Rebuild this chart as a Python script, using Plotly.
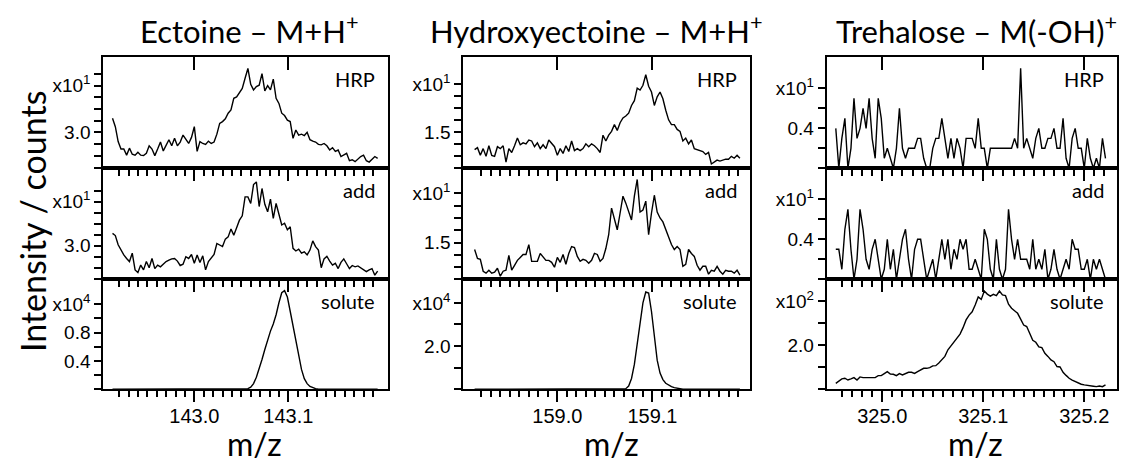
import plotly.graph_objects as go

# page geometry: the browser body keeps an 8 px margin, so the figure is drawn 8 px in
OFF = 8
PAGE_W, PAGE_H = 1128, 459
FW, FH = PAGE_W - OFF, PAGE_H - OFF

# ---------------- data ----------------
ect_mz = [142.913, 142.916, 142.919, 142.922, 142.925, 142.928, 142.931, 142.934, 142.937, 142.940,
          142.943, 142.946, 142.949, 142.952, 142.955, 142.958, 142.961, 142.964, 142.967, 142.970,
          142.973, 142.976, 142.979, 142.982, 142.985, 142.988, 142.991, 142.994, 142.997, 143.000,
          143.003, 143.006, 143.009, 143.012, 143.015, 143.018, 143.021, 143.024, 143.027, 143.030,
          143.033, 143.036, 143.039, 143.042, 143.045, 143.048, 143.051, 143.054, 143.057, 143.060,
          143.063, 143.066, 143.069, 143.072, 143.075, 143.078, 143.081, 143.084, 143.087, 143.090,
          143.093, 143.096, 143.099, 143.102, 143.105, 143.108, 143.111, 143.114, 143.117, 143.120,
          143.123, 143.126, 143.129, 143.132, 143.135, 143.138, 143.141, 143.144, 143.147, 143.150,
          143.153, 143.156, 143.159, 143.162, 143.165, 143.168, 143.171, 143.174, 143.177, 143.180,
          143.183, 143.186, 143.189, 143.192, 143.195]
ect_hrp = [3.30, 3.12, 2.80, 2.64, 2.64, 2.51, 2.66, 2.53, 2.51, 2.57,
           2.51, 2.50, 2.55, 2.71, 2.64, 2.50, 2.64, 2.79, 2.60, 2.71,
           2.84, 2.71, 2.87, 2.71, 2.79, 2.94, 2.84, 2.76, 2.89, 3.12,
           2.59, 2.80, 2.76, 2.74, 2.81, 2.76, 2.79, 2.96, 3.19, 3.23,
           3.29, 3.41, 3.48, 3.73, 3.76, 3.84, 3.94, 4.16, 4.37, 4.03,
           3.91, 3.98, 4.01, 4.26, 3.89, 4.00, 3.91, 4.14, 3.73, 3.62,
           3.41, 3.36, 3.26, 3.23, 2.87, 3.05, 2.94, 2.96, 2.93, 3.00,
           2.84, 2.81, 2.79, 2.74, 2.73, 2.76, 2.71, 2.62, 2.67, 2.59,
           2.62, 2.48, 2.51, 2.55, 2.39, 2.41, 2.37, 2.43, 2.48, 2.51,
           2.39, 2.36, 2.43, 2.48, 2.44]
ect_add = [3.28, 3.23, 3.02, 2.89, 2.79, 2.71, 2.64, 2.83, 2.45, 2.39,
           2.56, 2.45, 2.64, 2.50, 2.71, 2.48, 2.56, 2.52, 2.58, 2.64,
           2.67, 2.70, 2.71, 2.65, 2.55, 2.58, 2.75, 2.71, 2.80, 2.60,
           2.79, 2.62, 2.77, 2.45, 2.64, 2.73, 2.80, 3.05, 3.02, 2.98,
           3.15, 3.20, 3.38, 3.24, 3.41, 3.58, 3.68, 4.11, 4.11, 3.96,
           4.39, 4.45, 3.89, 4.30, 3.94, 3.77, 4.06, 3.62, 3.96, 3.73,
           3.47, 3.51, 3.36, 3.43, 2.94, 2.88, 2.92, 2.83, 2.86, 2.79,
           2.90, 3.11, 2.98, 2.90, 2.50, 2.70, 2.76, 2.65, 2.56, 2.60,
           2.48, 2.62, 2.70, 2.59, 2.48, 2.55, 2.52, 2.54, 2.50, 2.44,
           2.41, 2.45, 2.48, 2.33, 2.42]
ect_solute = [0, 0, 0, 0, 0, 0, 0, 0, 0, 0,
              0, 0, 0, 0, 0, 0, 0, 0, 0, 0,
              0, 0, 0, 0, 0, 0, 0, 0, 0, 0,
              0, 0, 0, 0, 0, 0, 0, 0, 0, 0,
              0, 0, 0, 0, 0, 0, 0, 0.005, 0.01, 0.03,
              0.08, 0.17, 0.28, 0.42, 0.56, 0.70, 0.82, 0.92, 1.05, 1.22,
              1.36, 1.39, 1.30, 1.10, 0.88, 0.68, 0.46, 0.28, 0.15, 0.08,
              0.04, 0.02, 0.01, 0, 0, 0, 0, 0, 0, 0,
              0, 0, 0, 0, 0, 0, 0, 0, 0, 0,
              0, 0, 0, 0, 0]

hyd_mz = [158.913, 158.916, 158.919, 158.922, 158.925, 158.928, 158.931, 158.934, 158.937, 158.940,
          158.943, 158.946, 158.949, 158.952, 158.955, 158.958, 158.961, 158.964, 158.967, 158.970,
          158.973, 158.976, 158.979, 158.982, 158.985, 158.988, 158.991, 158.994, 158.997, 159.000,
          159.003, 159.006, 159.009, 159.012, 159.015, 159.018, 159.021, 159.024, 159.027, 159.030,
          159.033, 159.036, 159.039, 159.042, 159.045, 159.048, 159.051, 159.054, 159.057, 159.060,
          159.063, 159.066, 159.069, 159.072, 159.075, 159.078, 159.081, 159.084, 159.087, 159.090,
          159.093, 159.096, 159.099, 159.102, 159.105, 159.108, 159.111, 159.114, 159.117, 159.120,
          159.123, 159.126, 159.129, 159.132, 159.135, 159.138, 159.141, 159.144, 159.147, 159.150,
          159.153, 159.156, 159.159, 159.162, 159.165, 159.168, 159.171, 159.174, 159.177, 159.180,
          159.183, 159.186, 159.189, 159.192]
hyd_hrp = [1.32, 1.34, 1.26, 1.33, 1.25, 1.36, 1.26, 1.25, 1.35, 1.33,
           1.36, 1.19, 1.33, 1.29, 1.36, 1.44, 1.37, 1.39, 1.38, 1.42,
           1.41, 1.35, 1.39, 1.33, 1.37, 1.33, 1.42, 1.38, 1.35, 1.26,
           1.33, 1.28, 1.36, 1.30, 1.41, 1.31, 1.33, 1.31, 1.33, 1.38,
           1.35, 1.38, 1.36, 1.33, 1.29, 1.47, 1.41, 1.47, 1.51, 1.58,
           1.52, 1.60, 1.65, 1.67, 1.70, 1.78, 1.83, 1.96, 1.94, 1.99,
           2.10, 1.98, 1.92, 1.78, 1.87, 1.92, 1.85, 1.73, 1.63, 1.58,
           1.58, 1.53, 1.51, 1.41, 1.44, 1.38, 1.42, 1.33, 1.32, 1.31,
           1.30, 1.27, 1.29, 1.17, 1.19, 1.21, 1.20, 1.21, 1.22, 1.22,
           1.25, 1.23, 1.26, 1.23]
hyd_add = [1.43, 1.34, 1.33, 1.21, 1.19, 1.22, 1.19, 1.20, 1.24, 1.16,
           1.21, 1.22, 1.37, 1.22, 1.27, 1.32, 1.35, 1.38, 1.38, 1.48,
           1.31, 1.31, 1.31, 1.39, 1.35, 1.32, 1.32, 1.30, 1.25, 1.35,
           1.30, 1.38, 1.28, 1.39, 1.46, 1.45, 1.36, 1.31, 1.33, 1.32,
           1.29, 1.32, 1.39, 1.38, 1.31, 1.34, 1.44, 1.58, 1.85, 1.73,
           1.63, 1.80, 1.97, 1.90, 1.82, 1.73, 1.97, 2.14, 1.81, 1.83,
           1.92, 1.58, 1.80, 1.98, 1.81, 1.75, 1.71, 1.63, 1.54, 1.48,
           1.43, 1.46, 1.43, 1.26, 1.28, 1.43, 1.39, 1.36, 1.27, 1.22,
           1.26, 1.26, 1.18, 1.22, 1.21, 1.26, 1.21, 1.18, 1.22, 1.21,
           1.21, 1.19, 1.22, 1.17]
hyd_solute = [0, 0, 0, 0, 0, 0, 0, 0, 0, 0,
              0, 0, 0, 0, 0, 0, 0, 0, 0, 0,
              0, 0, 0, 0, 0, 0, 0, 0, 0, 0,
              0, 0, 0, 0, 0, 0, 0, 0, 0, 0,
              0, 0, 0, 0, 0, 0, 0, 0, 0, 0,
              0, 0, 0, 0.03, 0.15, 0.50, 1.15, 2.05, 3.10, 4.00,
              4.50, 4.45, 3.60, 2.40, 1.35, 0.75, 0.45, 0.28, 0.19, 0.12,
              0.08, 0.05, 0.02, 0, 0, 0, 0, 0, 0, 0,
              0, 0, 0, 0, 0, 0, 0, 0, 0, 0,
              0, 0, 0, 0]

tre_mz = [324.954, 324.957, 324.960, 324.963, 324.966, 324.969, 324.972, 324.975, 324.978, 324.981,
          324.984, 324.987, 324.990, 324.993, 324.996, 324.999, 325.002, 325.005, 325.008, 325.011,
          325.014, 325.017, 325.020, 325.023, 325.026, 325.029, 325.032, 325.035, 325.038, 325.041,
          325.044, 325.047, 325.050, 325.053, 325.056, 325.059, 325.062, 325.065, 325.068, 325.071,
          325.074, 325.077, 325.080, 325.083, 325.086, 325.089, 325.092, 325.095, 325.098, 325.101,
          325.104, 325.107, 325.110, 325.113, 325.116, 325.119, 325.122, 325.125, 325.128, 325.131,
          325.134, 325.137, 325.140, 325.143, 325.146, 325.149, 325.152, 325.155, 325.158, 325.161,
          325.164, 325.167, 325.170, 325.173, 325.176, 325.179, 325.182, 325.185, 325.188, 325.191,
          325.194, 325.197, 325.200, 325.203, 325.206, 325.209, 325.212, 325.215, 325.218, 325.221]
tre_hrp = [0.4, 0.0, 0.3, 0.5, 0.0, 0.2, 0.7, 0.3, 0.4, 0.6,
           0.4, 0.7, 0.3, 0.1, 0.7, 0.5, 0.1, 0.2, 0.1, 0.0,
           0.2, 0.6, 0.2, 0.1, 0.2, 0.2, 0.2, 0.3, 0.3, 0.1,
           0.0, 0.0, 0.2, 0.3, 0.3, 0.5, 0.3, 0.1, 0.3, 0.1,
           0.3, 0.2, 0.0, 0.3, 0.3, 0.3, 0.2, 0.5, 0.2, 0.2,
           0.0, 0.2, 0.2, 0.2, 0.2, 0.2, 0.2, 0.2, 0.2, 0.3,
           0.2, 1.0, 0.2, 0.3, 0.2, 0.1, 0.3, 0.4, 0.2, 0.2,
           0.3, 0.3, 0.4, 0.2, 0.2, 0.5, 0.1, 0.0, 0.3, 0.4,
           0.2, 0.2, 0.0, 0.3, 0.1, 0.0, 0.1, 0.0, 0.3, 0.1]
tre_add = [0.3, 0.3, 0.1, 0.5, 0.7, 0.3, 0.0, 0.2, 0.7, 0.5,
           0.2, 0.1, 0.3, 0.4, 0.2, 0.0, 0.1, 0.4, 0.1, 0.3,
           0.0, 0.2, 0.4, 0.5, 0.2, 0.0, 0.3, 0.4, 0.4, 0.2,
           0.0, 0.1, 0.2, 0.0, 0.2, 0.4, 0.2, 0.4, 0.1, 0.3,
           0.2, 0.4, 0.3, 0.4, 0.1, 0.1, 0.2, 0.1, 0.0, 0.5,
           0.4, 0.1, 0.0, 0.4, 0.1, 0.0, 0.1, 0.7, 0.4, 0.2,
           0.4, 0.2, 0.2, 0.2, 0.1, 0.4, 0.1, 0.2, 0.1, 0.3,
           0.0, 0.1, 0.3, 0.1, 0.0, 0.1, 0.2, 0.1, 0.4, 0.3,
           0.3, 0.1, 0.1, 0.2, 0.0, 0.2, 0.1, 0.2, 0.1, 0.0]
tre_solute = [0.27, 0.38, 0.47, 0.50, 0.42, 0.47, 0.53, 0.42, 0.56, 0.53,
              0.53, 0.53, 0.53, 0.53, 0.62, 0.62, 0.71, 0.80, 0.69, 0.68,
              0.62, 0.71, 0.65, 0.72, 0.77, 0.77, 0.72, 0.80, 0.86, 0.95,
              0.95, 0.98, 1.06, 1.07, 1.19, 1.33, 1.49, 1.79, 1.98, 2.16,
              2.31, 2.50, 2.79, 3.14, 3.36, 3.51, 3.82, 4.18, 4.07, 4.45,
              4.31, 4.22, 4.30, 4.24, 4.45, 4.27, 4.24, 3.85, 3.67, 3.57,
              3.44, 3.18, 2.91, 2.84, 2.55, 2.22, 2.13, 1.92, 1.89, 1.63,
              1.49, 1.33, 1.25, 1.03, 1.01, 0.77, 0.63, 0.50, 0.42, 0.35,
              0.27, 0.23, 0.20, 0.17, 0.17, 0.14, 0.12, 0.15, 0.12, 0.20]

# ---------------- tick values / labels ----------------
ect_major = [143.0, 143.1]
ect_major_text = ["143.0", "143.1"]
ect_minor = [142.92, 142.93, 142.94, 142.95, 142.96, 142.97, 142.98, 142.99, 143.01,
             143.02, 143.03, 143.04, 143.05, 143.06, 143.07, 143.08, 143.09, 143.11,
             143.12, 143.13, 143.14, 143.15, 143.16, 143.17, 143.18, 143.19]
hyd_major = [159.0, 159.1]
hyd_major_text = ["159.0", "159.1"]
hyd_minor = [158.92, 158.93, 158.94, 158.95, 158.96, 158.97, 158.98, 158.99, 159.01,
             159.02, 159.03, 159.04, 159.05, 159.06, 159.07, 159.08, 159.09, 159.11,
             159.12, 159.13, 159.14, 159.15, 159.16, 159.17, 159.18, 159.19]
tre_major = [325.0, 325.1, 325.2]
tre_major_text = ["325.0", "325.1", "325.2"]
tre_minor = [324.96, 324.97, 324.98, 324.99, 325.01, 325.02, 325.03, 325.04, 325.05,
             325.06, 325.07, 325.08, 325.09, 325.11, 325.12, 325.13, 325.14, 325.15,
             325.16, 325.17, 325.18, 325.19, 325.21, 325.22]

X1 = "x10<sup>1</sup>"
ect_y_major = [3.0, 4.0]
ect_y_text = ["3.0", X1]
ect_hrp_minor = [2.2275, 2.5, 2.75, 3.25, 3.5, 3.75, 4.25]
ect_add_minor = [2.236, 2.5, 2.75, 3.25, 3.5, 3.75, 4.25]
ect_sol_major = [0.4, 0.8, 1.2]
ect_sol_text = ["0.4", "0.8", "x10<sup>4</sup>"]
ect_sol_minor = [0.0, 0.2, 0.6, 1.0]
hyd_y_major = [1.5, 2.0]
hyd_y_text = ["1.5", X1]
hyd_hrp_minor = [1.125, 1.25, 1.375, 1.625, 1.75, 1.875]
hyd_add_minor = [1.128, 1.25, 1.375, 1.625, 1.75, 1.875]
hyd_sol_major = [2, 4]
hyd_sol_text = ["2.0", "x10<sup>4</sup>"]
hyd_sol_minor = [0, 1, 3]
tre_y_major = [0.4, 0.8]
tre_y_text = ["0.4", X1]
tre_y_minor = [0.0, 0.2, 0.6]
tre_sol_major = [2, 4]
tre_sol_text = ["2.0", "x10<sup>2</sup>"]
tre_sol_minor = [0, 1, 3]

titles = ["Ectoine – M+H<sup>+</sup>", "Hydroxyectoine – M+H<sup>+</sup>", "Trehalose – M(-OH)<sup>+</sup>"]
row_labels = ["HRP", "add", "solute"]

# ---------------- layout geometry (page pixels) ----------------
columns = [
    dict(mz=ect_mz, series=[ect_hrp, ect_add, ect_solute], xr=[142.9032, 143.2057], dom=(103.3, 387.7),
         major=ect_major, major_text=ect_major_text, minor=ect_minor,
         yr=[[2.2275, 4.622], [2.236, 4.759], [0, 1.55]],
         ymaj=[ect_y_major, ect_y_major, ect_sol_major], ytxt=[ect_y_text, ect_y_text, ect_sol_text],
         ymin=[ect_hrp_minor, ect_add_minor, ect_sol_minor],
         title_x=249.5, mz_x=254),
    dict(mz=hyd_mz, series=[hyd_hrp, hyd_add, hyd_solute], xr=[158.9011, 159.2026], dom=(463.3, 750.0),
         major=hyd_major, major_text=hyd_major_text, minor=hyd_minor,
         yr=[[1.125, 2.288], [1.128, 2.253], [0, 5.09]],
         ymaj=[hyd_y_major, hyd_y_major, hyd_sol_major], ytxt=[hyd_y_text, hyd_y_text, hyd_sol_text],
         ymin=[hyd_hrp_minor, hyd_add_minor, hyd_sol_minor],
         title_x=596, mz_x=611),
    dict(mz=tre_mz, series=[tre_hrp, tre_add, tre_solute], xr=[324.945, 325.2321], dom=(826.7, 1116.7),
         major=tre_major, major_text=tre_major_text, minor=tre_minor,
         yr=[[0, 1.117], [0, 1.11], [0, 4.98]],
         ymaj=[tre_y_major, tre_y_major, tre_sol_major], ytxt=[tre_y_text, tre_y_text, tre_sol_text],
         ymin=[tre_y_minor, tre_y_minor, tre_sol_minor],
         title_x=976, mz_x=975),
]
rows_px = [(56.7, 168.3), (168.3, 279.3), (279.3, 389.3)]

XTICKFONT = dict(family="Arial, Liberation Sans, sans-serif", size=20, color="black")
YTICKFONT = dict(family="Arial, Liberation Sans, sans-serif", size=19, color="black")
LFONT = "Lato, Carlito, Calibri, sans-serif"


def fx(p):
    return (p - OFF) / FW


def fy(p):
    return 1 - (p - OFF) / FH


def nm(n):
    return "" if n == 1 else str(n)


fig = go.Figure()
layout = {}
annotations = []

for c, col in enumerate(columns):
    for r in range(3):
        n = c * 3 + r + 1
        top, bot = rows_px[r]
        fig.add_trace(go.Scatter(x=col["mz"], y=col["series"][r], mode="lines",
                                 line=dict(color="black", width=1.4),
                                 xaxis="x" + nm(n), yaxis="y" + nm(n),
                                 showlegend=False, hoverinfo="skip"))
        layout["xaxis" + nm(n)] = dict(
            domain=[fx(col["dom"][0]), fx(col["dom"][1])], range=col["xr"], anchor="y" + nm(n),
            showline=True, linecolor="black", linewidth=2, mirror=True,
            tickmode="array", tickvals=col["major"], ticktext=col["major_text"],
            ticks="outside", ticklen=11, tickwidth=1.5, tickcolor="black",
            minor=dict(tickmode="array", tickvals=col["minor"], ticks="outside", ticklen=6,
                       tickwidth=1.5, tickcolor="black", showgrid=False),
            showticklabels=(r == 2), tickfont=XTICKFONT, ticklabelstandoff=-3,
            showgrid=False, zeroline=False, fixedrange=True)
        layout["yaxis" + nm(n)] = dict(
            domain=[fy(bot), fy(top)], range=col["yr"][r], anchor="x" + nm(n),
            showline=True, linecolor="black", linewidth=2, mirror=True,
            tickmode="array", tickvals=col["ymaj"][r], ticktext=col["ytxt"][r],
            ticks="outside", ticklen=7, tickwidth=1.5, tickcolor="black",
            minor=dict(tickmode="array", tickvals=col["ymin"][r], ticks="outside", ticklen=7,
                       tickwidth=1.5, tickcolor="black", showgrid=False),
            tickfont=YTICKFONT, ticklabelstandoff=0,
            showgrid=False, zeroline=False, fixedrange=True)
        annotations.append(dict(text=row_labels[r], x=fx(col["dom"][1] - 11), y=fy(top + 8),
                                xref="paper", yref="paper", xanchor="right", yanchor="top",
                                showarrow=False, font=dict(family=LFONT, size=20, color="black")))
    # major ticks on the top edge of the upper panel
    n_top = c * 3 + 1
    k = 10 + c
    fig.add_trace(go.Scatter(x=[], y=[], xaxis="x" + str(k), yaxis="y" + nm(n_top),
                             showlegend=False, hoverinfo="skip"))
    layout["xaxis" + str(k)] = dict(
        overlaying="x" + nm(n_top), side="top", anchor="y" + nm(n_top), range=col["xr"],
        tickmode="array", tickvals=col["major"], ticks="inside", ticklen=13, tickwidth=1.5,
        tickcolor="black", showline=False, showticklabels=False, showgrid=False, zeroline=False,
        fixedrange=True)
    annotations.append(dict(text=titles[c], x=fx(col["title_x"]), y=fy(29.5), xref="paper", yref="paper",
                            xanchor="center", yanchor="middle", showarrow=False,
                            font=dict(family=LFONT, size=31, color="black")))
    annotations.append(dict(text="m/z", x=fx(col["mz_x"]), y=fy(443), xref="paper", yref="paper",
                            xanchor="center", yanchor="middle", showarrow=False,
                            font=dict(family=LFONT, size=32, color="black")))

annotations.append(dict(text="Intensity / counts", x=fx(32), y=fy(222), xref="paper", yref="paper",
                        xanchor="center", yanchor="middle", textangle=-90, showarrow=False,
                        font=dict(family=LFONT, size=34, color="black")))

fig.update_layout(width=FW, height=FH, margin=dict(l=0, r=0, t=0, b=0),
                  paper_bgcolor="white", plot_bgcolor="white", showlegend=False,
                  annotations=annotations, **layout)

fig.write_html("out.html")
